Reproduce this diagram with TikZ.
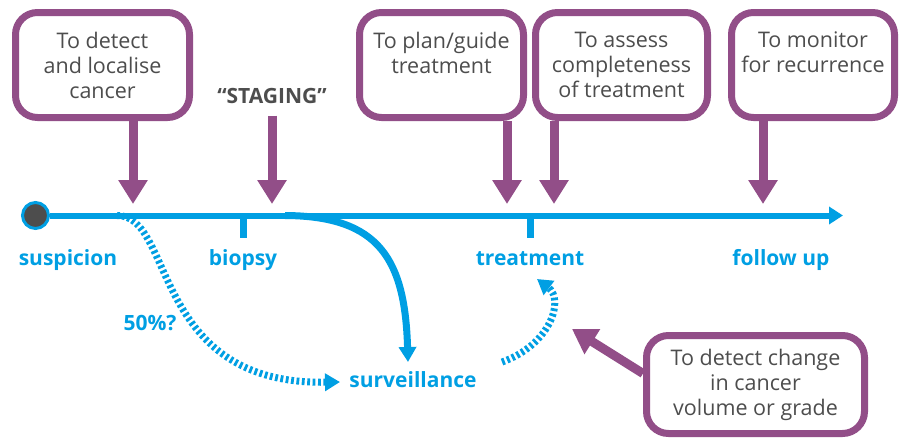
\documentclass[tikz,border=0pt]{standalone}
\usepackage{fontspec}
\setmainfont{Open Sans}
\usetikzlibrary{arrows.meta,positioning}
\definecolor{purp}{HTML}{924E88}
\definecolor{blu}{HTML}{009FE3}
\definecolor{txt}{HTML}{4D4D4D}

\begin{document}
\begin{tikzpicture}[x=1pt,y=-1pt,
	goal/.style={draw=purp,line width=7pt,rounded corners=22pt,fill=white,align=center,text=txt,
		font=\fontsize{21.5}{25}\selectfont,minimum height=105pt,inner sep=0pt},
	stage/.style={text=blu,font=\fontsize{21}{24}\selectfont\bfseries,anchor=base},
	purplearrow/.style={draw=purp,line width=9pt,-{Triangle[width=28pt,length=24pt]}},
	timeline/.style={draw=blu,line width=6pt},
	bluearrow/.style={draw=blu,line width=7pt,-{Triangle[width=17pt,length=15pt]}},
	dottedarrow/.style={bluearrow,dash pattern=on 2.8pt off 2.6pt}]
	\useasboundingbox	(0,0)	rectangle	(900,442);

	% goals
	\node[goal,minimum width=174pt]	(detect)	at	(102.5,65)	{To detect\\and localise\\cancer};
	\node[goal,minimum width=164pt]	(plan)		at	(441.5,65)	{To plan/guide\\treatment\\\phantom{x}};
	\node[goal,minimum width=172pt]	(assess)	at	(621.5,65)	{To assess\\completeness\\of treatment};
	\node[goal,minimum width=163pt]	(monitor)	at	(813,65)	{To monitor\\for recurrence\\\phantom{x}};
	\node[goal,minimum width=218pt,minimum height=98pt]	(change)	at	(755.5,384.5)	{To detect change\\in cancer\\volume or grade};
	\node[text=txt,font=\fontsize{21}{24}\selectfont\bfseries,anchor=base]	(staging)	at	(272,103)	{“STAGING”};

	% timeline
	\node[circle,draw=blu,line width=3pt,fill=txt,minimum size=26pt,inner sep=0pt]	(start)	at	(35.5,215.5)	{};
	\coordinate	(end)		at	(843,215.5);
	\coordinate	(biopsy)	at	(243,215.5);
	\coordinate	(treat)		at	(530,215.5);
	\draw[timeline,-{Triangle[width=17pt,length=14pt]}]	(start)	--	(end);
	\draw[timeline,line width=7pt]	(biopsy)	--	++(0,22);
	\draw[timeline,line width=7pt]	(treat)		--	++(0,22);

	\node[stage]	(suspicion)		at	(68,265)	{suspicion};
	\node[stage]	(biopsylbl)		at	(243,265)	{biopsy};
	\node[stage]	(treatment)		at	(530,265)	{treatment};
	\node[stage]	(followup)		at	(781,265)	{follow up};
	\node[stage]	(surveillance)	at	(413,387)	{surveillance};
	\node[stage]	(fifty)			at	(150,330)	{50\%?};

	% arrows onto the timeline
	\coordinate	(detectTip)		at	(133,204);
	\coordinate	(stagingTip)	at	(272,204);
	\coordinate	(planTip)		at	(507,204);
	\coordinate	(assessTip)		at	(554,204);
	\coordinate	(monitorTip)	at	(763,204);
	\coordinate	(changeTip)		at	(572,329);
	\path	(detect.south -| detectTip)		edge[purplearrow]	(detectTip);
	\path	([yshift=-9pt]staging.south)	edge[purplearrow]	(stagingTip);
	\path	(plan.south -| planTip)			edge[purplearrow]	(planTip);
	\path	(assess.south -| assessTip)		edge[purplearrow]	(assessTip);
	\path	(monitor.south -| monitorTip)	edge[purplearrow]	(monitorTip);
	\path	([yshift=11pt]change.west)		edge[purplearrow]	(changeTip);

	% pathways
	\coordinate	(branch)	at	(285,215.5);
	\coordinate	(early)		at	(117,215.5);
	\coordinate	(survIn)	at	(340,382);
	\coordinate	(survOut)	at	(502,362);
	\coordinate	(treatIn)	at	(537,279);
	\coordinate	(survTop)	at	(408,362);
	\draw[bluearrow]	(branch)	..	controls	(380,216)	and	(405,260)	..	(survTop);
	\draw[dottedarrow]	(early)		..	controls	(175,215)	and	(150,385)	..	(survIn);
	\draw[dottedarrow]	(survOut)	..	controls	(550,345)	and	(565,300)	..	(treatIn);
\end{tikzpicture}
\end{document}
